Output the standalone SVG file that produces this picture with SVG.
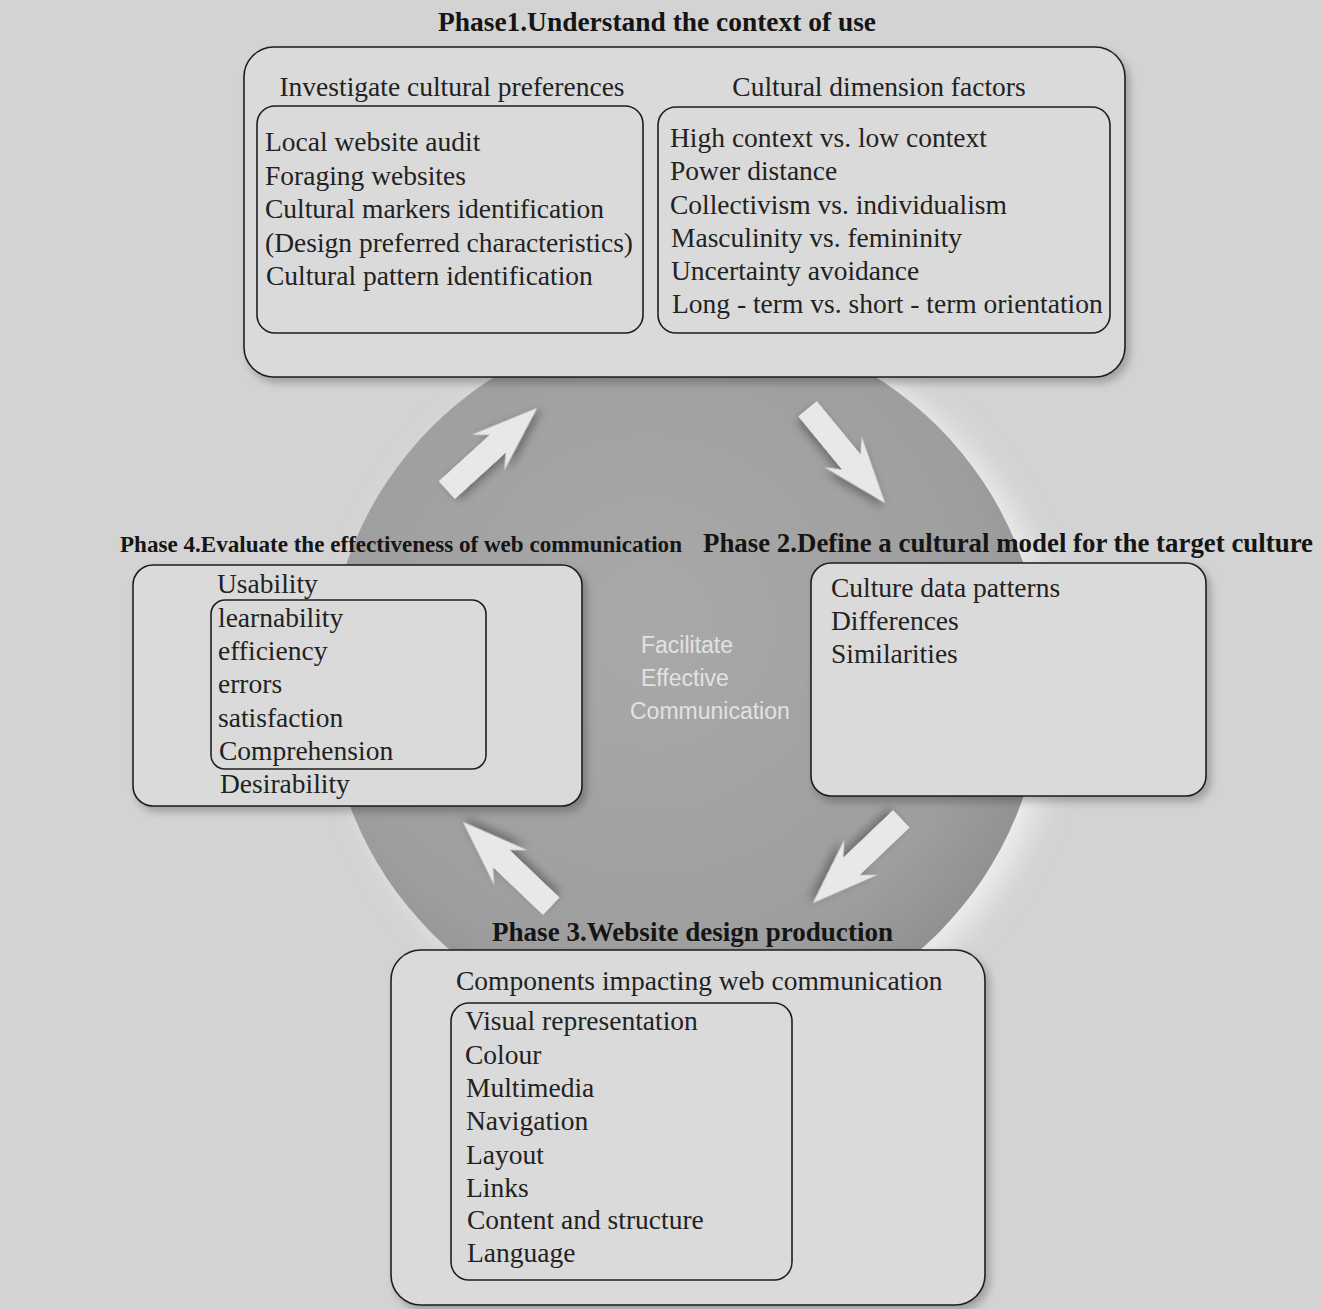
<svg xmlns="http://www.w3.org/2000/svg" width="1322" height="1309" viewBox="0 0 1322 1309">
<style>
.box{fill:#dadada;stroke:#1e1e1e;stroke-width:1.6}
.inner{fill:none;stroke:#1e1e1e;stroke-width:1.6}
.t{font-family:"Liberation Serif","Times New Roman",serif;font-size:27.5px;fill:#222}
.h{font-family:"Liberation Serif","Times New Roman",serif;font-size:27px;font-weight:bold;fill:#151515}
.c{font-family:"Liberation Sans",Arial,sans-serif;font-size:23px;fill:#e2e2e2}
.arrow{fill:#e8e8e8}
</style>
<defs>
<radialGradient id="cg" cx="0.45" cy="0.42" r="0.6">
<stop offset="0" stop-color="#a9a9a9"/>
<stop offset="0.8" stop-color="#9e9e9e"/>
<stop offset="1" stop-color="#909090"/>
</radialGradient>
<filter id="sh" x="-10%" y="-10%" width="130%" height="130%">
<feGaussianBlur in="SourceAlpha" stdDeviation="4"/>
<feOffset dx="4" dy="5"/>
<feComponentTransfer><feFuncA type="linear" slope="0.25"/></feComponentTransfer>
<feMerge><feMergeNode/><feMergeNode in="SourceGraphic"/></feMerge>
</filter>
<filter id="ash" x="-30%" y="-30%" width="160%" height="160%">
<feGaussianBlur in="SourceAlpha" stdDeviation="5"/>
<feOffset dx="3" dy="4"/>
<feComponentTransfer><feFuncA type="linear" slope="0.35"/></feComponentTransfer>
<feMerge><feMergeNode/><feMergeNode in="SourceGraphic"/></feMerge>
</filter>
<filter id="glow" x="-20%" y="-20%" width="140%" height="140%">
<feGaussianBlur stdDeviation="14"/>
</filter>
<path id="arr" d="M0,0 L-66,-24 L-53,-12 L-122,-12 L-122,12 L-53,12 L-66,24 Z"/>
</defs>
<rect width="1322" height="1309" fill="#d3d3d3"/>

<g id="center">
<circle cx="700" cy="688" r="358" fill="#ededed" filter="url(#glow)"/>
<circle cx="685" cy="680" r="358" fill="url(#cg)"/>
<text class="c" x="641" y="653">Facilitate</text>
<text class="c" x="641" y="686">Effective</text>
<text class="c" x="630" y="719">Communication</text>
</g>

<g id="connectors">
<use href="#arr" class="arrow" filter="url(#ash)" transform="translate(537,408) rotate(-42.3)"/>
<use href="#arr" class="arrow" filter="url(#ash)" transform="translate(885,503) rotate(50.6)"/>
<use href="#arr" class="arrow" filter="url(#ash)" transform="translate(813,903) rotate(136.4)"/>
<use href="#arr" class="arrow" filter="url(#ash)" transform="translate(463,822) rotate(-136.3)"/>
</g>

<g id="phase1">
<text class="h" x="657" y="31" text-anchor="middle" textLength="438" lengthAdjust="spacingAndGlyphs">Phase1.Understand the context of use</text>
<rect class="box" x="244" y="47" width="881" height="330" rx="30" filter="url(#sh)"/>
<text class="t" x="452" y="96" text-anchor="middle">Investigate cultural preferences</text>
<text class="t" x="879" y="96" text-anchor="middle">Cultural dimension factors</text>
<rect class="inner" x="257" y="106" width="386" height="227" rx="18"/>
<rect class="inner" x="658" y="107" width="452" height="226" rx="18"/>
<text class="t" x="265" y="151">Local website audit</text>
<text class="t" x="265" y="185">Foraging websites</text>
<text class="t" x="265" y="218">Cultural markers identification</text>
<text class="t" x="265" y="252">(Design preferred characteristics)</text>
<text class="t" x="266" y="285">Cultural pattern identification</text>
<text class="t" x="670" y="147">High context vs. low context</text>
<text class="t" x="670" y="180">Power distance</text>
<text class="t" x="670" y="214">Collectivism vs. individualism</text>
<text class="t" x="671" y="247">Masculinity vs. femininity</text>
<text class="t" x="671" y="280">Uncertainty avoidance</text>
<text class="t" x="672" y="313">Long - term vs. short - term orientation</text>
</g>

<g id="phase4">
<text class="h" x="120" y="552" style="font-size:23.5px" textLength="562" lengthAdjust="spacingAndGlyphs">Phase 4.Evaluate the effectiveness of web communication</text>
<rect class="box" x="133" y="565" width="449" height="241" rx="20" filter="url(#sh)"/>
<rect class="inner" x="211" y="600" width="275" height="169" rx="14"/>
<text class="t" x="217" y="593">Usability</text>
<text class="t" x="218" y="627">learnability</text>
<text class="t" x="218" y="660">efficiency</text>
<text class="t" x="218" y="693">errors</text>
<text class="t" x="218" y="727">satisfaction</text>
<text class="t" x="219" y="760">Comprehension</text>
<text class="t" x="220" y="793">Desirability</text>
</g>

<g id="phase2">
<text class="h" x="703" y="552" textLength="610" lengthAdjust="spacingAndGlyphs">Phase 2.Define a cultural model for the target culture</text>
<rect class="box" x="811" y="563" width="395" height="233" rx="20" filter="url(#sh)"/>
<text class="t" x="831" y="597">Culture data patterns</text>
<text class="t" x="831" y="630">Differences</text>
<text class="t" x="831" y="663">Similarities</text>
</g>

<g id="phase3">
<text class="h" x="492" y="941" textLength="401" lengthAdjust="spacingAndGlyphs">Phase 3.Website design production</text>
<rect class="box" x="391" y="950" width="594" height="355" rx="30" filter="url(#sh)"/>
<text class="t" x="456" y="990">Components impacting web communication</text>
<rect class="inner" x="451" y="1003" width="341" height="277" rx="18"/>
<text class="t" x="465" y="1030">Visual representation</text>
<text class="t" x="465" y="1064">Colour</text>
<text class="t" x="466" y="1097">Multimedia</text>
<text class="t" x="466" y="1130">Navigation</text>
<text class="t" x="466" y="1164">Layout</text>
<text class="t" x="466" y="1197">Links</text>
<text class="t" x="467" y="1229">Content and structure</text>
<text class="t" x="467" y="1262">Language</text>
</g>
</svg>
